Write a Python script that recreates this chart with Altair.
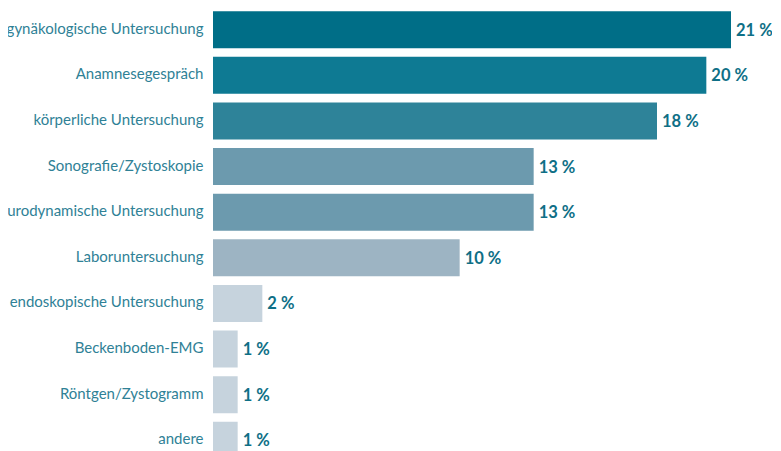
import altair as alt
import pandas as pd

categories = [
    "gynäkologische Untersuchung",
    "Anamnesegespräch",
    "körperliche Untersuchung",
    "Sonografie/Zystoskopie",
    "urodynamische Untersuchung",
    "Laboruntersuchung",
    "endoskopische Untersuchung",
    "Beckenboden-EMG",
    "Röntgen/Zystogramm",
    "andere",
]
values = [21, 20, 18, 13, 13, 10, 2, 1, 1, 1]
bar_colors = [
    "#006e87", "#0e7a93", "#2e8399", "#6c9aae", "#6c9aae",
    "#9db4c3", "#c6d3dd", "#c6d3dd", "#c6d3dd", "#c6d3dd",
]

df = pd.DataFrame({"cat": categories, "val": values})
df["label"] = df["val"].astype(str) + " %"

y = alt.Y(
    "cat:N",
    sort=categories,
    title=None,
    scale=alt.Scale(paddingInner=0.19, paddingOuter=0.07, range=[0, 454]),
    axis=alt.Axis(
        domain=False, ticks=False, labelPadding=10,
        labelFont="Lato", labelFontSize=15, labelColor="#2f8196",
        labelLimit=300, labelOffset=-1,
    ),
)
x = alt.X("val:Q", scale=alt.Scale(domain=[0, 21], nice=False, zero=True), axis=None, title=None)

bars = alt.Chart(df).mark_bar().encode(
    x=x, y=y,
    color=alt.Color("cat:N", scale=alt.Scale(domain=categories, range=bar_colors), legend=None),
)
text = alt.Chart(df).mark_text(
    align="left", baseline="middle", dx=5, dy=1,
    font="Lato", fontSize=16.5, fontWeight="bold", color="#0e6f86",
).encode(x=x, y=y, text="label:N")

chart = (bars + text).properties(
    width=518, height=443,
    padding={"left": 205, "top": 0, "right": 41, "bottom": 0},
    autosize=alt.AutoSizeParams(type="none"),
).configure_view(stroke=None)
chart.save("out.html", embed_options={"renderer": "svg", "actions": False})
